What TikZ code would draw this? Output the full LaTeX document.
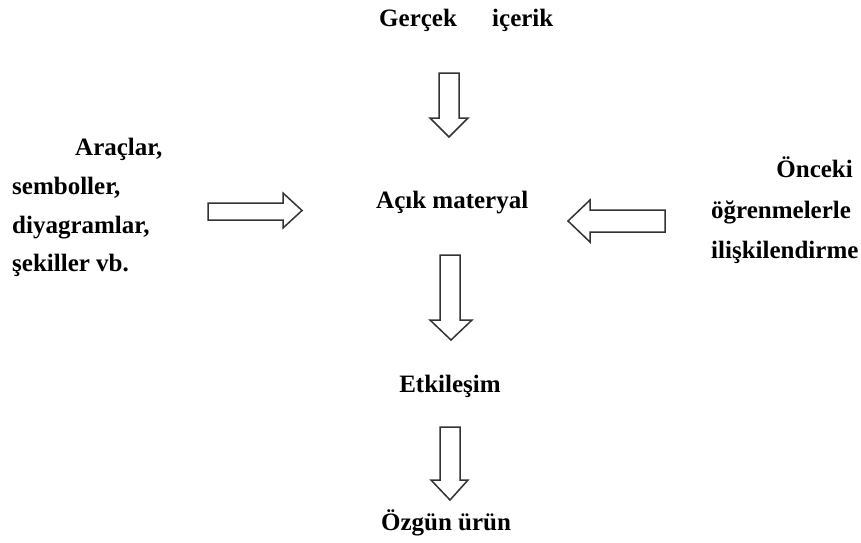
\documentclass[tikz,border=0pt]{standalone}
\usepackage{fontspec}
\setmainfont{Liberation Serif}
\begin{document}
\begin{tikzpicture}[x=1pt,y=-1pt,
  lbl/.style={font=\fontsize{25}{25}\selectfont\bfseries, inner sep=0pt, text=black},
  hollow/.style={draw=black!80, line width=1.5pt, fill=white, line join=miter}]
\useasboundingbox (0,0) rectangle (861,542);

% text blocks
\node[lbl, anchor=base west] (gercek) at (379,26) {Gerçek};
\node[lbl, anchor=base west] (icerik) at (492,26) {içerik};
\node[lbl, anchor=base west] (acik) at (376,208) {Açık materyal};
\node[lbl, anchor=base] (etk) at (450,392) {Etkileşim};
\node[lbl, anchor=base] (ozgun) at (446,530) {Özgün ürün};

\node[lbl, anchor=base west] (l1) at (75,155) {Araçlar,};
\node[lbl, anchor=base west] (l2) at (12,194) {semboller,};
\node[lbl, anchor=base west] (l3) at (12,233) {diyagramlar,};
\node[lbl, anchor=base west] (l4) at (12,271) {şekiller vb.};

\node[lbl, anchor=base east] (r1) at (853,177) {Önceki};
\node[lbl, anchor=base west] (r2) at (711,218) {öğrenmelerle};
\node[lbl, anchor=base west] (r3) at (711,258) {ilişkilendirme};

% hollow block arrows
\draw[hollow] (439,73) -- (459,73) -- (459,118) -- (468,118) -- (449,137)
  -- (430,118) -- (439,118) -- cycle;
\draw[hollow] (440,255) -- (460,255) -- (460,320) -- (472,320) -- (451,340)
  -- (430,320) -- (440,320) -- cycle;
\draw[hollow] (440,427) -- (460,427) -- (460,480) -- (468,480) -- (450,500)
  -- (431,480) -- (440,480) -- cycle;
\draw[hollow] (208,203) -- (283,203) -- (283,193) -- (302,210.5) -- (283,228)
  -- (283,220) -- (208,220) -- cycle;
\draw[hollow] (665,210) -- (590,210) -- (590,200) -- (568,221) -- (590,242)
  -- (590,232) -- (665,232) -- cycle;
\end{tikzpicture}
\end{document}
